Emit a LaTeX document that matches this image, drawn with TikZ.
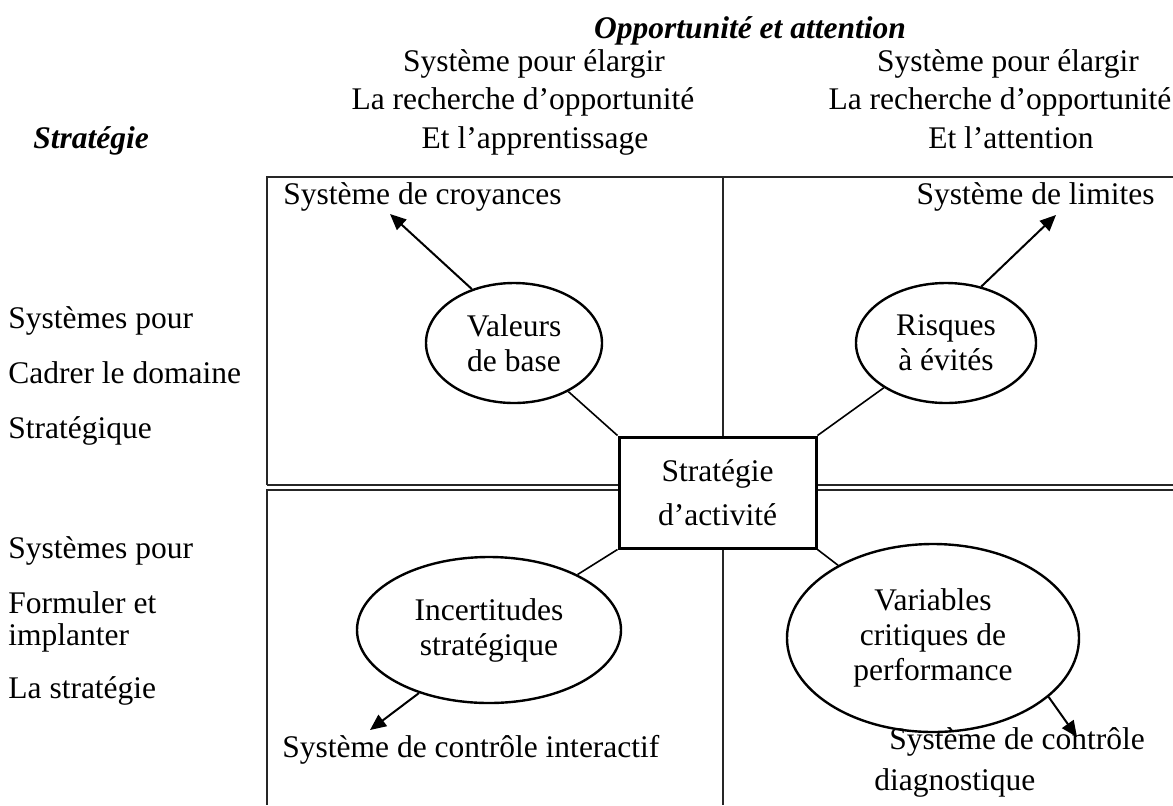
\documentclass[tikz,border=0pt]{standalone}
\usepackage{fontspec}
\setmainfont{Liberation Serif}
\usetikzlibrary{shapes.geometric,arrows.meta}
\newcommand\basefont{\fontsize{15.75}{17.5}\selectfont}
\begin{document}
\begin{tikzpicture}[x=0.5pt,y=-0.5pt,
  line/.style={inner sep=0pt, text height=0.68em, text depth=0.22em, font=\basefont},
  txt/.style={line, anchor=center},
  lft/.style={line, anchor=west},
  rgt/.style={line, anchor=east},
  head/.style={txt, font=\basefont\bfseries\itshape},
  oval/.style={ellipse, draw, line width=1.2pt, align=center, inner sep=0pt, font=\basefont},
  core/.style={draw, line width=1.5pt, fill=white, align=center, inner sep=0pt,
    font=\fontsize{15.75}{22}\selectfont},
  link/.style={line width=0.8pt},
  arr/.style={line width=1pt, -{Triangle[length=8pt,width=7pt]}},
  frame/.style={line width=0.7pt, draw=black!85}
]
\useasboundingbox (0,0) rectangle (1173,805);

% headings
\node[head] (opp) at (750,34) {Opportunité et attention};
\node[head] (strat) at (91,144) {Stratégie};
\node[txt] (la) at (534,67) {Système pour élargir};
\node[txt] (lb) at (523,105) {La recherche d’opportunité};
\node[txt] (lc) at (535,144) {Et l’apprentissage};
\node[txt] (ra) at (1008,67) {Système pour élargir};
\node[txt] (rb) at (1000,105) {La recherche d’opportunité};
\node[txt] (rc) at (1011,144) {Et l’attention};

% row labels
\node[lft] (s1) at (8,324) {Systèmes pour};
\node[lft] (s2) at (8,379) {Cadrer le domaine};
\node[lft] (s3) at (8,434) {Stratégique};
\node[lft] (f1) at (8,554) {Systèmes pour};
\node[lft] (f2) at (8,609) {Formuler et};
\node[lft] (f3) at (8,641) {implanter};
\node[lft] (f4) at (8,694) {La stratégie};

% quadrant frames
\draw[frame] (267,485) -- (267,177) -- (1173,177);
\draw[frame] (267,485) -- (1173,485);
\draw[frame] (1173,490) -- (267,490) -- (267,805);
\draw[frame] (723,177) -- (723,805);

% central box
\node[core, minimum width=98.5pt, minimum height=55.5pt] (box) at (717.5,492.5) {Stratégie\\d’activité};

% ovals
\node[oval, minimum width=88pt, minimum height=60pt] (val) at (514,343) {Valeurs\\de base};
\node[oval, minimum width=90pt, minimum height=60pt] (ris) at (946,343) {Risques\\à évités};
\node[oval, minimum width=132pt, minimum height=73pt] (inc) at (489,630) {Incertitudes\\stratégique};
\node[oval, minimum width=146pt, minimum height=94pt] (var) at (933,638) {Variables\\critiques de\\performance};

% system labels
\node[lft] (croy) at (283,200) {Système de croyances};
\node[rgt] (lim) at (1155,200) {Système de limites};
\node[lft] (inter) at (282,753) {Système de contrôle interactif};
\node[lft] (diaga) at (889,745) {Système de contrôle};
\node[lft] (diagb) at (874,786) {diagnostique};

% arrow tips
\coordinate (tval) at (390,214);
\coordinate (tris) at (1056,215);
\coordinate (tinc) at (370,730);
\coordinate (tvar) at (1077,737);

% links to the box
\draw[link] (val) -- (box.north west);
\draw[link] (ris) -- (box.north east);
\draw[link] (inc) -- (box.south west);
\draw[link] (var) -- (box.south east);

% arrows to the systems
\draw[arr] (val.128) -- (tval);
\draw[arr] (ris.58) -- (tris);
\draw[arr] (inc.222) -- (tinc);
\draw[arr] (var.-27) -- (tvar);
\end{tikzpicture}
\end{document}
